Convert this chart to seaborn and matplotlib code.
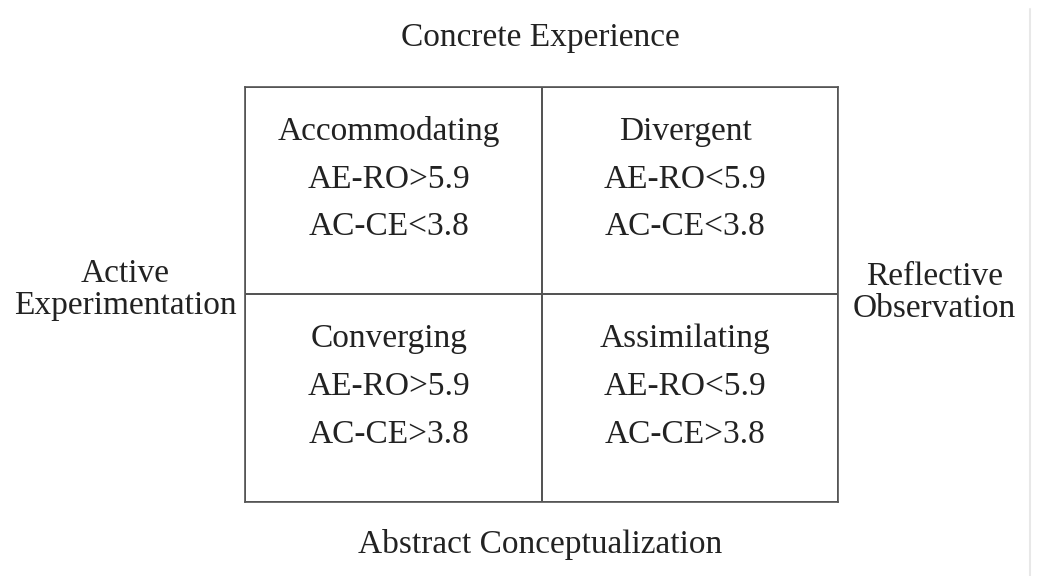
import numpy as np
import matplotlib.pyplot as plt
import seaborn as sns
from matplotlib.lines import Line2D

# Kolb learning-style grid
STYLES = [["Accommodating", "Divergent"],
          ["Converging", "Assimilating"]]
AE_RO = [[">5.9", "<5.9"],
         [">5.9", "<5.9"]]
AC_CE = [["<3.8", "<3.8"],
         [">3.8", ">3.8"]]
TOP_LABEL = "Concrete Experience"
BOTTOM_LABEL = "Abstract Conceptualization"
LEFT_LABEL = "Active\nExperimentation"
RIGHT_LABEL = "Reflective\nObservation"

FONT = "Liberation Serif"
TEXT_COLOR = "#222222"
LINE_COLOR = "#555555"


def main():
    sns.set_theme(style="white")
    plt.rcParams["font.family"] = [FONT, "DejaVu Serif"]

    fig = plt.figure(figsize=(10.37, 5.76), dpi=100)
    ax = fig.add_axes([0.2363, 0.1285, 0.5718, 0.7205])

    grid = np.zeros((len(STYLES), len(STYLES[0])))
    sns.heatmap(grid, ax=ax, cmap=["white"], cbar=False,
                linewidths=1.2, linecolor=LINE_COLOR,
                xticklabels=False, yticklabels=False)
    for sp in ax.spines.values():
        sp.set_visible(True)
        sp.set_color(LINE_COLOR)
        sp.set_linewidth(1.2)

    for r, row in enumerate(STYLES):
        for c, name in enumerate(row):
            label = f"{name}\nAE-RO{AE_RO[r][c]}\nAC-CE{AC_CE[r][c]}"
            ax.text(c + 0.485, r + 0.445, label, ha="center", va="center",
                    fontsize=24, color=TEXT_COLOR, linespacing=1.73)

    fig.text(0.521, 0.934, TOP_LABEL, ha="center", va="center",
             fontsize=24, color=TEXT_COLOR)
    fig.text(0.521, 0.054, BOTTOM_LABEL, ha="center", va="center",
             fontsize=24, color=TEXT_COLOR)
    fig.text(0.121, 0.497, LEFT_LABEL, ha="center", va="center",
             fontsize=24, color=TEXT_COLOR, linespacing=1.05)
    fig.text(0.901, 0.492, RIGHT_LABEL, ha="center", va="center",
             fontsize=24, color=TEXT_COLOR, linespacing=1.05)

    # faint page edge on the right
    fig.add_artist(Line2D([0.993, 0.993], [0.0, 0.985], transform=fig.transFigure,
                          color="#e8e8e8", linewidth=1.5))

    fig.savefig("out.png", dpi=100, facecolor="white")


if __name__ == "__main__":
    main()
